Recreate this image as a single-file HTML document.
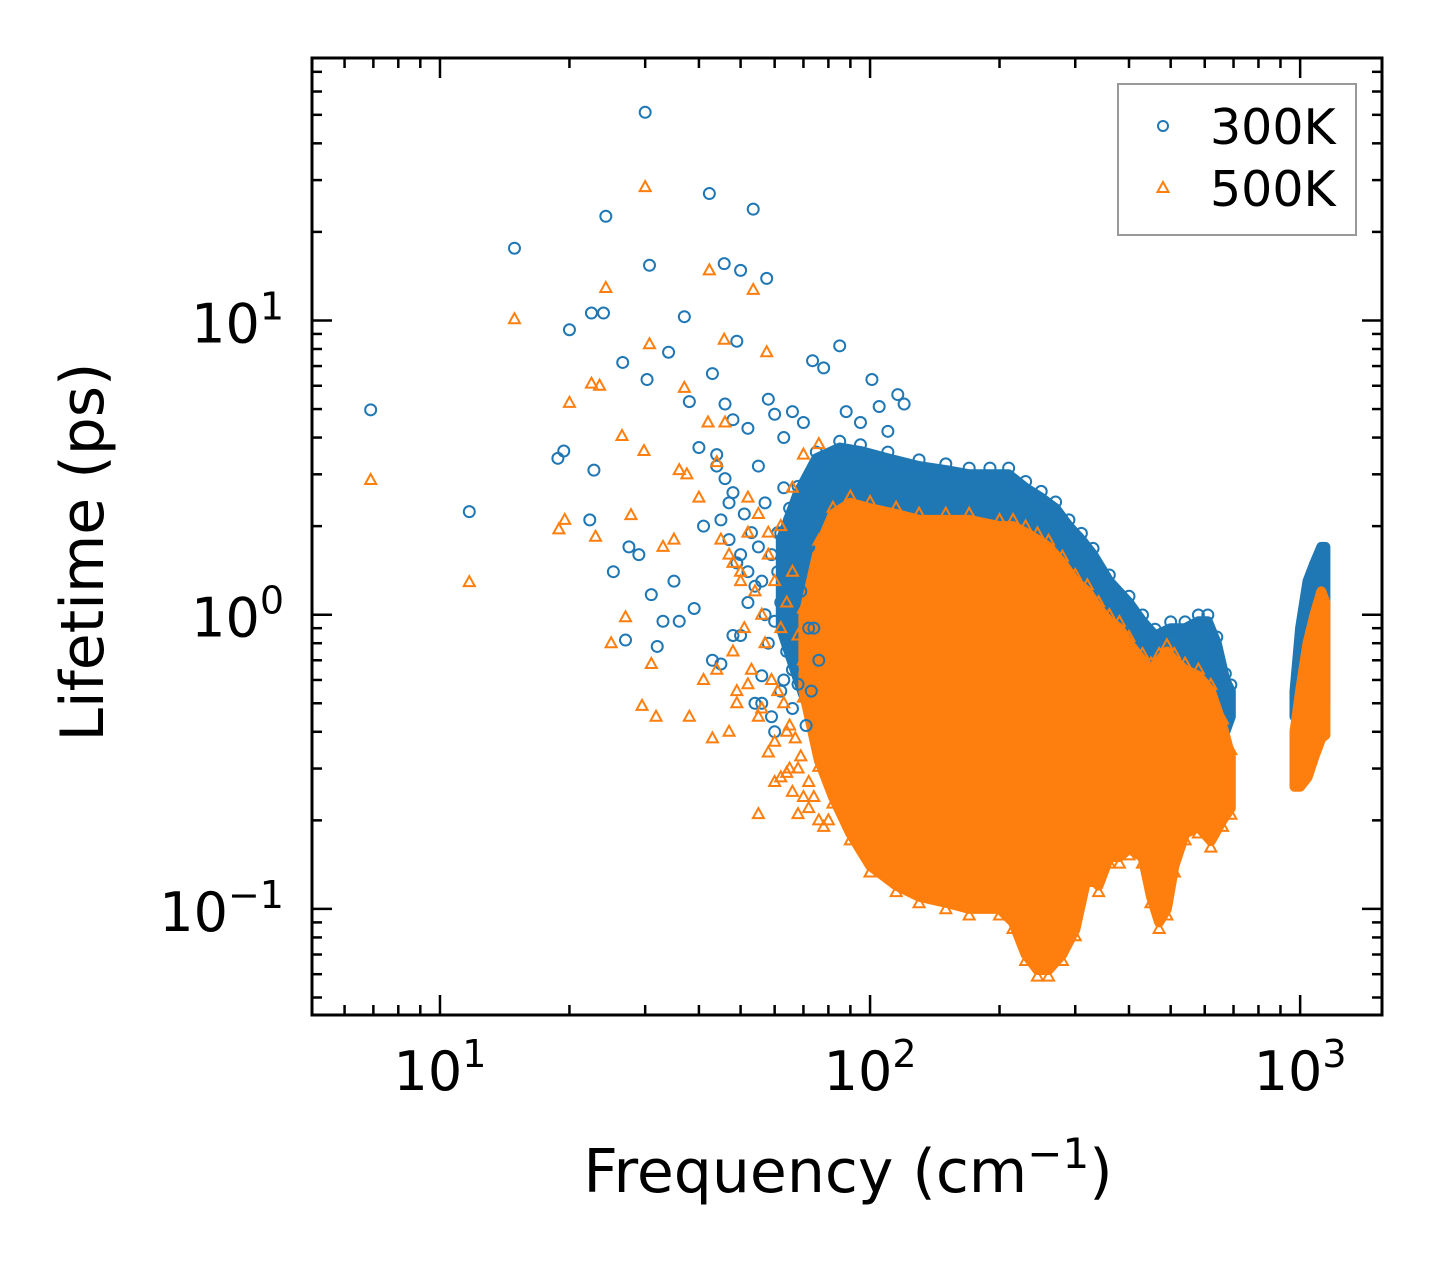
<!DOCTYPE html>
<html><head><meta charset="utf-8"><style>
html,body{margin:0;padding:0;background:#fff}
svg{display:block;font-family:"DejaVu Sans","Liberation Sans",sans-serif}
</style></head><body>
<svg id="chart" width="1442" height="1265" viewBox="0 0 1442 1265" xmlns="http://www.w3.org/2000/svg">
<g id="bands"></g>
<g id="points"></g>
<g id="axes"></g>
<g>
<rect x="1118" y="84" width="238" height="151" fill="#fff" fill-opacity="0.8" stroke="#999" stroke-width="2"/>
<circle cx="1163" cy="126" r="5" fill="none" stroke="#1f77b4" stroke-width="2"/>
<text x="1210" y="144" font-size="49">300K</text>
<path d="M1163,182 L1168.5,192 L1157.5,192 Z" fill="none" stroke="#ff7f0e" stroke-width="2"/>
<text x="1210" y="206" font-size="49">500K</text>
</g>
<text x="848" y="1192" font-size="60" text-anchor="middle">Frequency (cm<tspan dy="-24" font-size="42">−1</tspan><tspan dy="24">)</tspan></text>
<text transform="translate(103,552) rotate(-90)" font-size="60" text-anchor="middle">Lifetime (ps)</text>
</svg>
<script>
// ---- data ----
const out300F = [6.9,11.7,14.9,20,18.8,19.4,22.5,24,24.3,30,30.7,37,42.3,45.8,50,53.5,57.5,26.6,30.3,34,49,22.8,22.3,27.5,27,32,31,25.3,73.5,85,101,116,38,40,43,46,48,52,55,58,60,63,66,70,35,41,44,47,36,39,45,50,56,62,68,72,78,88,95,105,110,120,33,29,
 44,46,48,51,53,55,57,59,61,63,65,67,69,52,56,60,64,66,68,58,62,47,49,54,45,50,57,61,65,70,72,74,76,54,59,63,66,71,73,43,48,52,56,60];
const out300V = [4.97,2.24,17.6,9.3,3.4,3.6,10.6,10.6,22.6,51,15.4,10.3,27,15.6,14.8,23.9,13.9,7.2,6.3,7.8,8.5,3.1,2.1,1.7,0.82,0.78,1.17,1.4,7.3,8.2,6.3,5.6,5.3,3.7,6.6,5.2,4.6,4.3,3.2,5.4,4.8,4.0,4.9,4.5,1.3,2.0,3.5,2.4,0.95,1.05,0.68,0.85,0.62,1.1,1.5,0.9,6.9,4.9,4.5,5.1,4.2,5.2,0.95,1.6,
 3.2,2.9,2.6,2.2,1.9,1.7,2.4,1.6,1.4,2.7,2.1,1.5,1.2,1.1,1.3,0.95,0.75,0.65,0.58,0.8,0.55,1.8,1.5,1.25,2.1,1.6,1.0,1.9,2.3,2.0,1.7,0.9,0.7,0.5,0.45,0.6,0.48,0.42,0.55,0.7,0.85,1.4,0.5,0.4];
const out500F = [6.9,11.7,14.9,20,19.5,18.9,22.5,23.5,24.3,30,30.7,37,42.3,45.8,53.5,57.5,23,27.8,25,27,29.5,31.8,31,26.5,29.8,36,37.5,33,35,40,42,44,46,48,50,52,55,58,62,66,70,76,43,47,49,38,41,55,60,64,68,72,80,
 45,47,50,52,54,56,58,60,62,64,66,68,70,48,51,53,57,59,61,63,65,67,69,44,49,55,60,65,58,62,66,70,52,56,64,68,72,74,76,78];
const out500V = [2.87,1.29,10.1,5.25,2.1,1.95,6.1,6.0,12.9,28.4,8.3,5.9,14.8,8.6,12.7,7.8,1.84,2.18,0.8,0.98,0.49,0.45,0.68,4.05,3.6,3.1,3.0,1.7,1.8,2.5,4.5,3.3,4.5,1.5,1.3,2.5,2.2,1.9,2.0,2.7,3.5,3.8,0.38,0.4,0.55,0.45,0.6,0.21,0.27,0.29,0.21,0.22,0.2,
 1.8,1.6,1.4,1.9,1.2,1.0,1.6,1.3,0.9,1.1,1.4,0.85,0.7,0.75,0.9,0.65,0.8,0.6,0.55,0.5,0.42,0.38,0.33,0.65,0.5,0.45,0.37,0.3,0.34,0.28,0.25,0.24,0.58,0.48,0.4,0.3,0.27,0.24,0.2,0.19];
// dense cloud envelopes
const band300F = [62,68,75,85,95,110,130,150,170,190,210,230,250,270,290,310,330,360,400,430,460,500,540,580,610,640,670,690];
const band300Hi = [1.8,2.6,3.4,3.7,3.6,3.4,3.2,3.1,3.0,3.0,3.0,2.7,2.5,2.3,2.0,1.8,1.6,1.3,1.1,0.95,0.85,0.9,0.9,0.95,0.95,0.8,0.6,0.55];
const band300Lo = [0.9,0.6,0.4,0.3,0.22,0.2,0.2,0.2,0.2,0.2,0.2,0.2,0.2,0.2,0.2,0.2,0.2,0.2,0.2,0.2,0.2,0.2,0.25,0.3,0.35,0.38,0.4,0.45];
const band500F = [70,76,82,90,100,115,130,150,170,200,215,230,245,260,280,300,320,340,360,380,400,430,450,470,490,510,540,580,620,660,690];
const band500Hi = [1.0,1.7,2.2,2.4,2.3,2.2,2.1,2.1,2.1,2.0,2.0,1.9,1.8,1.7,1.5,1.3,1.2,1.05,0.95,0.9,0.8,0.7,0.65,0.7,0.75,0.7,0.65,0.62,0.55,0.42,0.33];
const band500Lo = [0.55,0.32,0.24,0.18,0.14,0.12,0.11,0.105,0.1,0.1,0.09,0.07,0.062,0.062,0.07,0.085,0.13,0.12,0.15,0.15,0.16,0.15,0.11,0.09,0.1,0.14,0.18,0.19,0.17,0.2,0.22];
const hf300F = [970,1000,1040,1080,1120,1145];
const hf300Hi = [0.55,0.9,1.3,1.5,1.7,1.7];
const hf300Lo = [0.45,0.45,0.45,0.5,0.5,0.5];
const hf500F = [970,1000,1040,1080,1120,1145];
const hf500Hi = [0.4,0.55,0.8,1.0,1.2,1.1];
const hf500Lo = [0.26,0.26,0.28,0.33,0.38,0.39];
const xTickExp = [1,2,3];
const yTickExp = [-1,0,1];

// ---- scales ----
const X0=312,X1=1382,Y0=58,Y1=1015;
const LX0=Math.log10(5.04),LX1=Math.log10(1550),LY0=Math.log10(0.0436),LY1=Math.log10(78);
const xs=f=>X0+(Math.log10(f)-LX0)/(LX1-LX0)*(X1-X0);
const ys=v=>Y1-(Math.log10(v)-LY0)/(LY1-LY0)*(Y1-Y0);
const NS='http://www.w3.org/2000/svg';
function mk(tag,attrs,parent){const e=document.createElementNS(NS,tag);for(const k in attrs)e.setAttribute(k,attrs[k]);parent.appendChild(e);return e;}
const C1='#1f77b4',C2='#ff7f0e';
const bands=document.getElementById('bands'),pts=document.getElementById('points'),axes=document.getElementById('axes');

function band(F,Hi,Lo,color,name){
  let d='';
  F.forEach((f,i)=>{d+=(i?'L':'M')+xs(f).toFixed(1)+','+ys(Hi[i]).toFixed(1);});
  for(let i=F.length-1;i>=0;i--)d+='L'+xs(F[i]).toFixed(1)+','+ys(Lo[i]).toFixed(1);
  const p=mk('path',{d:d+'Z',fill:color,stroke:color,'stroke-width':10,'stroke-linejoin':'round'},bands);
  
  
}
function circ(f,v){const c=mk('circle',{cx:xs(f),cy:ys(v),r:5.5,fill:'none',stroke:C1,'stroke-width':2},pts);
  
  }
function tri(f,v){const x=xs(f),y=ys(v);const t=mk('path',{d:`M${x},${y-6}L${x+5.5},${y+4}L${x-5.5},${y+4}Z`,fill:'none',stroke:C2,'stroke-width':2},pts);
  
  }

band(band300F,band300Hi,band300Lo,C1,'cloud-300k');
band(hf300F,hf300Hi,hf300Lo,C1,'cloud-300k-high-freq');
out300F.forEach((f,i)=>circ(f,out300V[i]));
band300F.forEach((f,i)=>circ(f,band300Hi[i]*1.05));
band(band500F,band500Hi,band500Lo,C2,'cloud-500k');
band(hf500F,hf500Hi,hf500Lo,C2,'cloud-500k-high-freq');
out500F.forEach((f,i)=>tri(f,out500V[i]));
band500F.forEach((f,i)=>{tri(f,band500Hi[i]*1.05);tri(f,band500Lo[i]*0.95);});

// ---- axes ----
const fr=mk('rect',{x:X0,y:Y0,width:X1-X0,height:Y1-Y0,fill:'none',stroke:'#000','stroke-width':3},axes);


function tick(x1,y1,x2,y2){mk('line',{x1,y1,x2,y2,stroke:'#000','stroke-width':2.5},axes);}
for(let e=0;e<=3;e++)for(let m=1;m<10;m++){const f=m*Math.pow(10,e);if(f<5.04||f>1550)continue;const x=xs(f),L=m===1?20:10;tick(x,Y1,x,Y1-L);tick(x,Y0,x,Y0+L);}
for(let e=-2;e<=1;e++)for(let m=1;m<10;m++){const v=m*Math.pow(10,e);if(v<0.0436||v>78)continue;const y=ys(v),L=m===1?20:10;tick(X0,y,X0+L,y);tick(X1,y,X1-L,y);}
xTickExp.forEach(e=>{const t=mk('text',{x:xs(Math.pow(10,e)),y:1090,'font-size':54,'text-anchor':'middle'},axes);t.innerHTML=`10<tspan dy="-23" font-size="38">${e}</tspan>`;
  
  });
yTickExp.forEach(e=>{const t=mk('text',{x:284,y:ys(Math.pow(10,e))+22,'font-size':54,'text-anchor':'end'},axes);t.innerHTML=`10<tspan dy="-23" font-size="38">${e<0?'−'+(-e):e}</tspan>`;
  
  });
</script>
</body></html>
